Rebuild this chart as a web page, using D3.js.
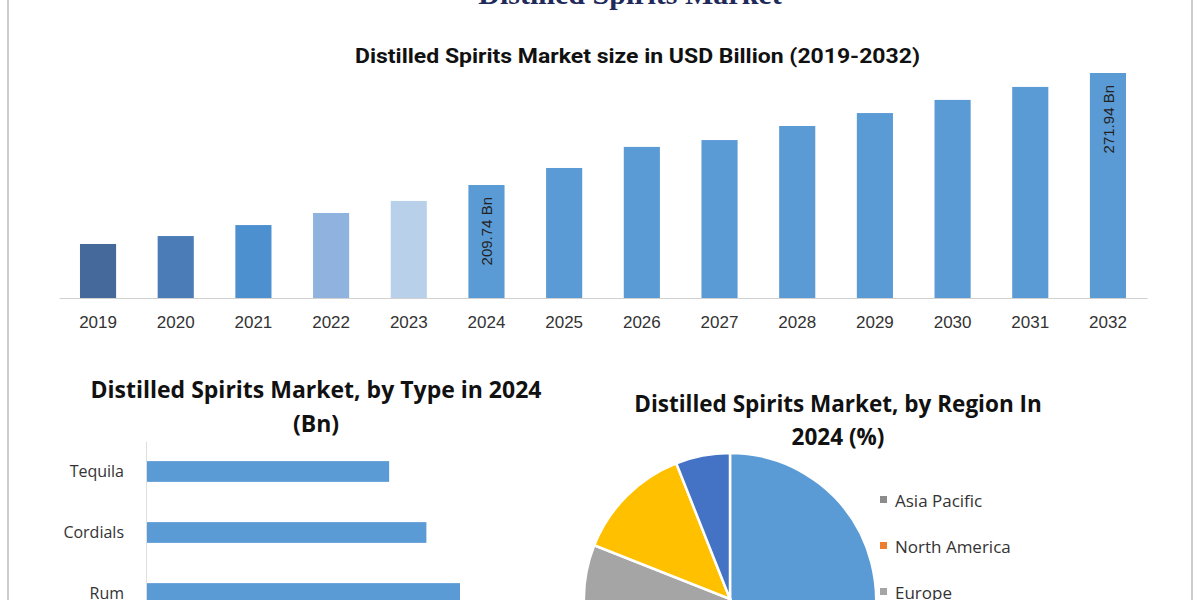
<!DOCTYPE html>
<html><head><meta charset="utf-8">
<script src="https://cdn.jsdelivr.net/npm/d3@7"></script>
<style>body{margin:0;background:#fff}</style></head>
<body><div id="chart"></div>
<script>
"use strict";

// data
let years = ["2019","2020","2021","2022","2023","2024","2025","2026","2027","2028","2029","2030","2031","2032"];
let marketSize = [177, 181.4, 187.5, 194.2, 200.9, 209.74, 219.2, 230.9, 234.7, 242.5, 249.7, 257.0, 264.2, 271.94];
let barColors = ["#44699a","#4b7cb7","#4d90d0","#8fb3de","#b9d0ea","#5b9bd5","#5b9bd5","#5b9bd5","#5b9bd5","#5b9bd5","#5b9bd5","#5b9bd5","#5b9bd5","#5b9bd5"];

let types = ["Tequila", "Cordials", "Rum"];
let typeValues = [40.5, 46.7, 52.3];

let regions = ["Asia Pacific", "North America", "Europe", "Latin America", "Middle East & Africa"];
let regionShares = [42, 20, 19, 13, 6];
let regionColors = ["#5b9bd5", "#ed7d31", "#a5a5a5", "#ffc000", "#4472c4"];
let legendColors = ["#8c8c8c", "#ed7d31", "#a5a5a5"];

let svg = d3.select("#chart").append("svg").attr("width", 1200).attr("height", 600);

// frame
svg.append("rect").attr("x", 8).attr("y", -2).attr("width", 1184).attr("height", 610)
    .attr("fill", "none").attr("stroke", "#999");

// main title (cut off at top)
svg.append("text").attr("x", 630).attr("y", 4).attr("text-anchor", "middle")
    .attr("font-family", "Liberation Serif").attr("font-weight", "bold").attr("font-size", 30)
    .attr("fill", "#1f2a5a").text("Distilled Spirits Market");

/* TOP BAR CHART */
svg.append("text").attr("x", 355).attr("y", 63)
    .attr("textLength", 565).attr("lengthAdjust", "spacingAndGlyphs")
    .attr("font-family", "Roboto").attr("font-weight", "bold").attr("font-size", 20)
    .attr("fill", "#111").text("Distilled Spirits Market size in USD Billion (2019-2032)");

let x = d3.scaleBand().domain(years).range([59, 1147]).paddingInner(0.535).paddingOuter(0.27);
let y = d3.scaleLinear().domain([147, 271.94]).range([298, 73]);

svg.selectAll(".bar").data(years).join("rect")
    .attr("x", d => x(d)).attr("width", x.bandwidth())
    .attr("y", (d, i) => y(marketSize[i])).attr("height", (d, i) => 298 - y(marketSize[i]))
    .attr("fill", (d, i) => barColors[i]);

let xAxis = svg.append("g").attr("transform", "translate(0,298)")
    .call(d3.axisBottom(x).tickSize(0).tickPadding(18));
xAxis.select(".domain").attr("stroke", "#d0d0d0");
xAxis.selectAll("text").attr("font-family", "Liberation Sans").attr("font-size", 17).attr("fill", "#333");

[5, 13].forEach(i => {
    let cx = x(years[i]) + x.bandwidth() / 2;
    let ty = y(marketSize[i]) + 12;
    svg.append("text").attr("transform", `translate(${cx + 6},${ty}) rotate(-90)`)
        .attr("text-anchor", "end").attr("font-family", "Liberation Sans").attr("font-size", 15)
        .attr("fill", "#222").text(marketSize[i] + " Bn");
});

/* BOTTOM LEFT: BY TYPE */
svg.append("text").attr("x", 316).attr("y", 398).attr("text-anchor", "middle")
    .attr("font-family", "Open Sans").attr("font-weight", "bold").attr("font-size", 23)
    .attr("fill", "#111").text("Distilled Spirits Market, by Type in 2024");
svg.append("text").attr("x", 316).attr("y", 432).attr("text-anchor", "middle")
    .attr("font-family", "Open Sans").attr("font-weight", "bold").attr("font-size", 23)
    .attr("fill", "#111").text("(Bn)");

let yb = d3.scaleBand().domain(types).range([441, 624]).paddingInner(0.66).paddingOuter(0.33);
let xb = d3.scaleLinear().domain([0, 52.3]).range([146, 460]);
svg.selectAll(".tbar").data(types).join("rect")
    .attr("x", xb(0)).attr("y", d => yb(d)).attr("height", yb.bandwidth())
    .attr("width", (d, i) => xb(typeValues[i]) - xb(0)).attr("fill", "#5b9bd5");
let yAxis = svg.append("g").attr("transform", "translate(146,0)")
    .call(d3.axisLeft(yb).tickSize(0).tickPadding(22));
yAxis.select(".domain").attr("stroke", "#e0e0e0");
yAxis.selectAll("text").attr("font-family", "Open Sans").attr("font-size", 16).attr("fill", "#333");

/* BOTTOM RIGHT: BY REGION */
svg.append("text").attr("x", 838).attr("y", 412).attr("text-anchor", "middle")
    .attr("font-family", "Open Sans").attr("font-weight", "bold").attr("font-size", 22.5)
    .attr("fill", "#111").text("Distilled Spirits Market, by Region In");
svg.append("text").attr("x", 838).attr("y", 445).attr("text-anchor", "middle")
    .attr("font-family", "Open Sans").attr("font-weight", "bold").attr("font-size", 22.5)
    .attr("fill", "#111").text("2024 (%)");

let pie = d3.pie().sort(null)(regionShares);
let arc = d3.arc().innerRadius(0).outerRadius(146);
svg.append("g").attr("transform", "translate(730,599)")
    .selectAll("path").data(pie).join("path")
    .attr("d", arc).attr("fill", (d, i) => regionColors[i])
    .attr("stroke", "#fff").attr("stroke-width", 2.5);

regions.slice(0, 3).forEach((r, i) => {
    let ly = 501 + i * 46;
    svg.append("rect").attr("x", 880).attr("y", ly - 5).attr("width", 7).attr("height", 7)
        .attr("fill", legendColors[i]);
    svg.append("text").attr("x", 895).attr("y", ly + 6)
        .attr("font-family", "Open Sans").attr("font-size", 17).attr("fill", "#333").text(r);
});
</script></body></html>
